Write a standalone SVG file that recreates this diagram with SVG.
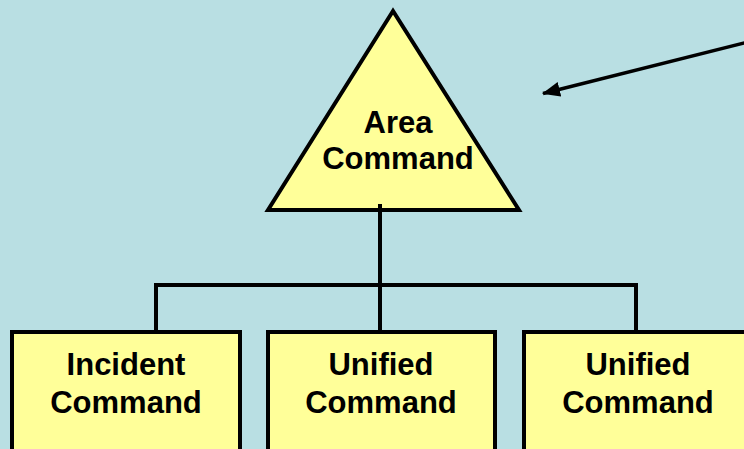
<svg xmlns="http://www.w3.org/2000/svg" width="744" height="449" viewBox="0 0 744 449">
<style>
.shape{fill:#FFFF99;stroke:#000;stroke-width:4}
.lbl{font-family:"Liberation Sans",Arial,sans-serif;font-weight:bold;font-size:31px;fill:#000;text-anchor:middle}
.conn{fill:none;stroke:#000;stroke-width:4}
</style>
<defs>
<marker id="ah" markerWidth="18" markerHeight="15" refX="17" refY="7.5" orient="auto" markerUnits="userSpaceOnUse">
<path d="M0,0 L18,7.5 L0,15 Z" fill="#000"/>
</marker>
</defs>
<rect width="744" height="449" fill="#B9DFE3"/>
<g id="area-command">
<polygon class="shape" points="393,11 268,210 519,210"/>
<text class="lbl" x="398" y="133">Area</text>
<text class="lbl" x="398" y="169">Command</text>
</g>
<g id="incident-command">
<rect class="shape" x="12" y="332" width="228" height="130"/>
<text class="lbl" x="126" y="375">Incident</text>
<text class="lbl" x="126" y="413">Command</text>
</g>
<g id="unified-command-1">
<rect class="shape" x="268" y="332" width="227" height="130"/>
<text class="lbl" x="381" y="375">Unified</text>
<text class="lbl" x="381" y="413">Command</text>
</g>
<g id="unified-command-2">
<rect class="shape" x="524" y="332" width="228" height="130"/>
<text class="lbl" x="638" y="375">Unified</text>
<text class="lbl" x="638" y="413">Command</text>
</g>
<g id="connectors">
<path class="conn" d="M380,204 V285 M154,285 H638 M156,283 V330 M380,285 V330 M636,283 V330"/>
<line x1="746" y1="42.5" x2="543" y2="93.5" stroke="#000" stroke-width="3.5" marker-end="url(#ah)"/>
</g>
</svg>
